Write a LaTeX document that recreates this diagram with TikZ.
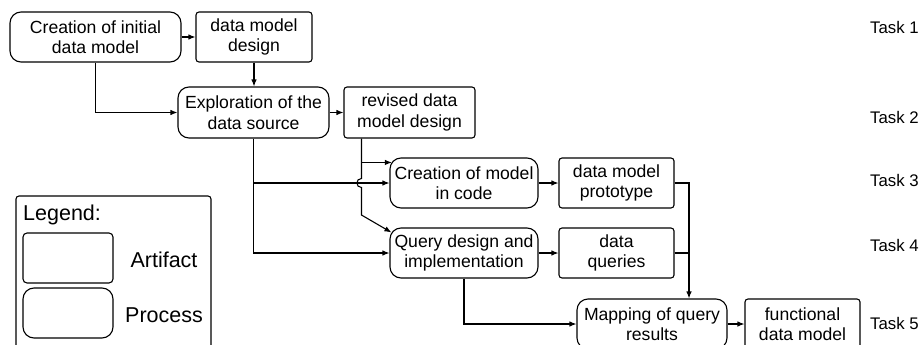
\documentclass[tikz,border=0pt]{standalone}
\usepackage{fontspec}
\setmainfont{Liberation Sans}
\usetikzlibrary{arrows.meta,calc}
\begin{document}
\begin{tikzpicture}[x=1pt,y=-1pt,
  box/.style={draw, line width=1.1pt, inner sep=0pt, align=center,
    font=\fontsize{17.6}{20.5}\selectfont},
  artifact/.style={box, rounded corners=3pt},
  process/.style={box, rounded corners=11pt},
  link/.style={line width=1.1pt},
  arr/.style={link, -{Latex[length=7pt,width=5.5pt]}},
  task/.style={anchor=west, inner sep=0pt, font=\fontsize{16.8}{19}\selectfont},
  legtext/.style={inner sep=0pt, font=\fontsize{21.5}{24}\selectfont}]
\useasboundingbox (0,0) rectangle (923,345);
\clip (0,0) rectangle (923,345);

% process steps and their artifacts
\node[process, minimum width=171pt, minimum height=50pt] (A) at (95.5,37) {Creation of initial\\data model};
\node[artifact, minimum width=116pt, minimum height=50pt] (B) at (254,37) {data model\\design};
\node[process, minimum width=151pt, minimum height=51pt] (C) at (253.5,112.5) {Exploration of the\\data source};
\node[artifact, minimum width=131pt, minimum height=51pt] (D) at (409.5,112.5) {revised data\\model design};
\node[process, minimum width=148pt, minimum height=50pt] (E) at (464,183) {Creation of model\\in code};
\node[process, minimum width=148pt, minimum height=50pt] (F) at (464,253) {Query design and\\implementation};
\node[artifact, minimum width=115pt, minimum height=50pt] (G) at (616.5,183) {data model\\prototype};
\node[artifact, minimum width=115pt, minimum height=50pt] (H) at (616.5,253) {data\\queries};
\node[process, minimum width=150pt, minimum height=50pt] (I) at (652,324) {Mapping of query\\results};
\node[artifact, minimum width=115pt, minimum height=50pt] (J) at (802.5,324) {functional\\data model};

% task labels
\node[task] (t1) at (870,27) {Task 1};
\node[task] (t2) at (870,117) {Task 2};
\node[task] (t3) at (870,180) {Task 3};
\node[task] (t4) at (870,245) {Task 4};
\node[task] (t5) at (870,323) {Task 5};

% connectors
\draw[arr] (A) -- (B);
\draw[arr] (B.south) -- (B.south |- C.north);
\draw[arr] (A.south) |- (C.west);
\draw[arr] (C) -- (D);
\draw[arr] (C.south) |- (E.west);
\draw[arr] (C.south) |- (F.west);
\coordinate (dtop) at ($(D.south west)+(18,0)$);
\coordinate (ein) at ($(E.north west)+(2.5,5)$);
\coordinate (fin) at ($(F.north west)+(2,5)$);
\coordinate (hopa) at (dtop |- 0,178.5);
\coordinate (hopb) at (dtop |- 0,187.5);
\coordinate (bend) at (dtop |- 0,215);
\draw[arr] (dtop) |- (ein);
\draw[arr] (dtop) -- (hopa)
  .. controls ($(hopa)+(-6,0)$) and ($(hopb)+(-6,0)$) .. (hopb)
  -- (bend) -- (fin);
\draw[arr] (E) -- (G);
\draw[arr] (F) -- (H);
\coordinate (iin) at ($(I.north)+(37,0)$);
\draw[arr] (G.east) -| (iin);
\draw[link] (H.east) -- (H.east -| iin);
\draw[arr] (F.south) |- (I.west);
\draw[arr] (I) -- (J);

% legend
\draw[line width=1.1pt, rounded corners=3pt] (16,196) rectangle (211,370);
\node[legtext, anchor=west] (lg) at (23,215) {Legend:};
\node[draw, line width=1.1pt, rounded corners=4pt, minimum width=90pt, minimum height=50pt, inner sep=0pt] (la) at (68,258) {};
\node[draw, line width=1.1pt, rounded corners=11pt, minimum width=90pt, minimum height=50pt, inner sep=0pt] (lp) at (68,313) {};
\node[legtext] (lat) at (164,260) {Artifact};
\node[legtext] (lpt) at (164,315) {Process};
\end{tikzpicture}
\end{document}
